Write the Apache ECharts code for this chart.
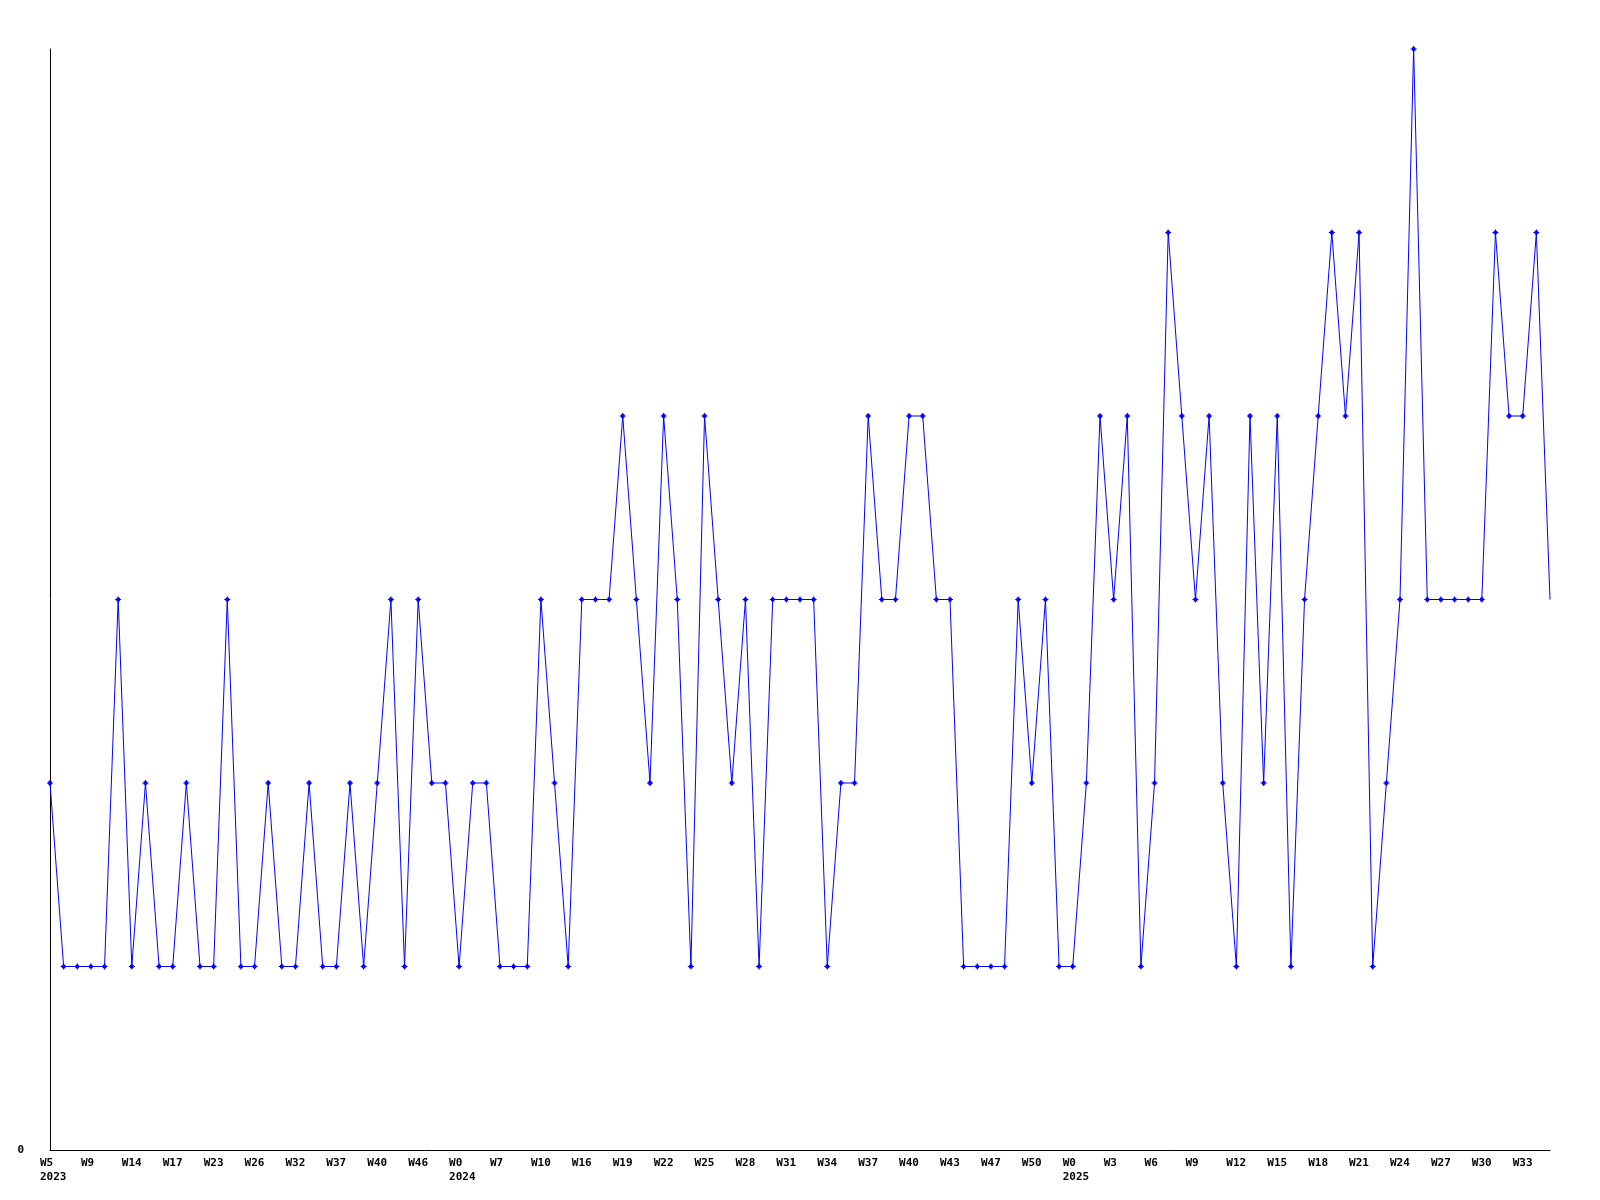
<!DOCTYPE html>
<html>
<head>
<meta charset="utf-8">
<script src="https://cdn.jsdelivr.net/npm/echarts@6/dist/echarts.min.js"></script>
<style>
html,body{margin:0;padding:0;background:#fff;}
#chart{width:1600px;height:1200px;}
</style>
</head>
<body>
<div id="chart"></div>
<script>
// weekly values (one per point)
const values = [
  2,1,1,1,1,3,1,2,1,1,
  2,1,1,3,1,1,2,1,1,2,
  1,1,2,1,2,3,1,3,2,2,
  1,2,2,1,1,1,3,2,1,3,
  3,3,4,3,2,4,3,1,4,3,
  2,3,1,3,3,3,3,1,2,2,
  4,3,3,4,4,3,3,1,1,1,
  1,3,2,3,1,1,2,4,3,4,
  1,2,5,4,3,4,2,1,4,2,
  4,1,3,4,5,4,5,1,2,3,
  6,3,3,3,3,3,5,4,4,5,
  3
];
// tick labels, one every 3rd point
const tickLabels = [
  'W5\n2023','W9','W14','W17','W23','W26','W32','W37','W40','W46',
  'W0\n2024','W7','W10','W16','W19','W22','W25','W28','W31','W34',
  'W37','W40','W43','W47','W50',
  'W0\n2025','W3','W6','W9','W12','W15','W18','W21','W24','W27','W30','W33'
];
const tickStep = 3;

const categories = values.map((v, i) => String(i));
const labelCats = values.map((v, i) => (i % tickStep === 0 && tickLabels[i / tickStep] !== undefined) ? tickLabels[i / tickStep] : '');

const font = {fontFamily: 'DejaVu Sans Mono', fontWeight: 'bold', fontSize: 11, color: '#000'};

const chart = echarts.init(document.getElementById('chart'), null, {renderer: 'canvas'});
chart.setOption({
  animation: false,
  backgroundColor: '#fff',
  grid: [
    {left: 50, right: 50, top: 49, bottom: 50},
    {left: 40, width: 1500, top: 49, bottom: 50}
  ],
  xAxis: [
    {
      type: 'category', gridIndex: 0, data: categories, boundaryGap: false,
      axisLine: {show: true, lineStyle: {color: '#000', width: 1}},
      axisTick: {show: false}, axisLabel: {show: false}, splitLine: {show: false}
    },
    {
      type: 'category', gridIndex: 1, data: labelCats, boundaryGap: false,
      axisLine: {show: false}, axisTick: {show: false}, splitLine: {show: false},
      axisLabel: Object.assign({show: true, interval: 0, align: 'left', margin: 6, lineHeight: 14}, font)
    }
  ],
  yAxis: [
    {
      type: 'value', gridIndex: 0, min: 0, max: 6, interval: 6,
      axisLine: {show: true, lineStyle: {color: '#000', width: 1}},
      axisTick: {show: false}, splitLine: {show: false},
      axisLabel: Object.assign({margin: 26, formatter: v => v === 0 ? '0' : ''}, font)
    },
    {
      type: 'value', gridIndex: 1, min: 0, max: 6, show: false
    }
  ],
  series: [{
    type: 'line',
    xAxisIndex: 0, yAxisIndex: 0,
    data: values.map((v, i) => i === values.length - 1 ? {value: v, symbol: 'none'} : v),
    symbol: 'path://M2,0H3V1H4V2H5V3H4V4H3V5H2V4H1V3H0V2H1V1H2Z',
    symbolSize: 6,
    showAllSymbol: true,
    lineStyle: {color: '#0000ff', width: 1},
    itemStyle: {color: '#0000ff', borderWidth: 0}
  }]
});
</script>
</body>
</html>
